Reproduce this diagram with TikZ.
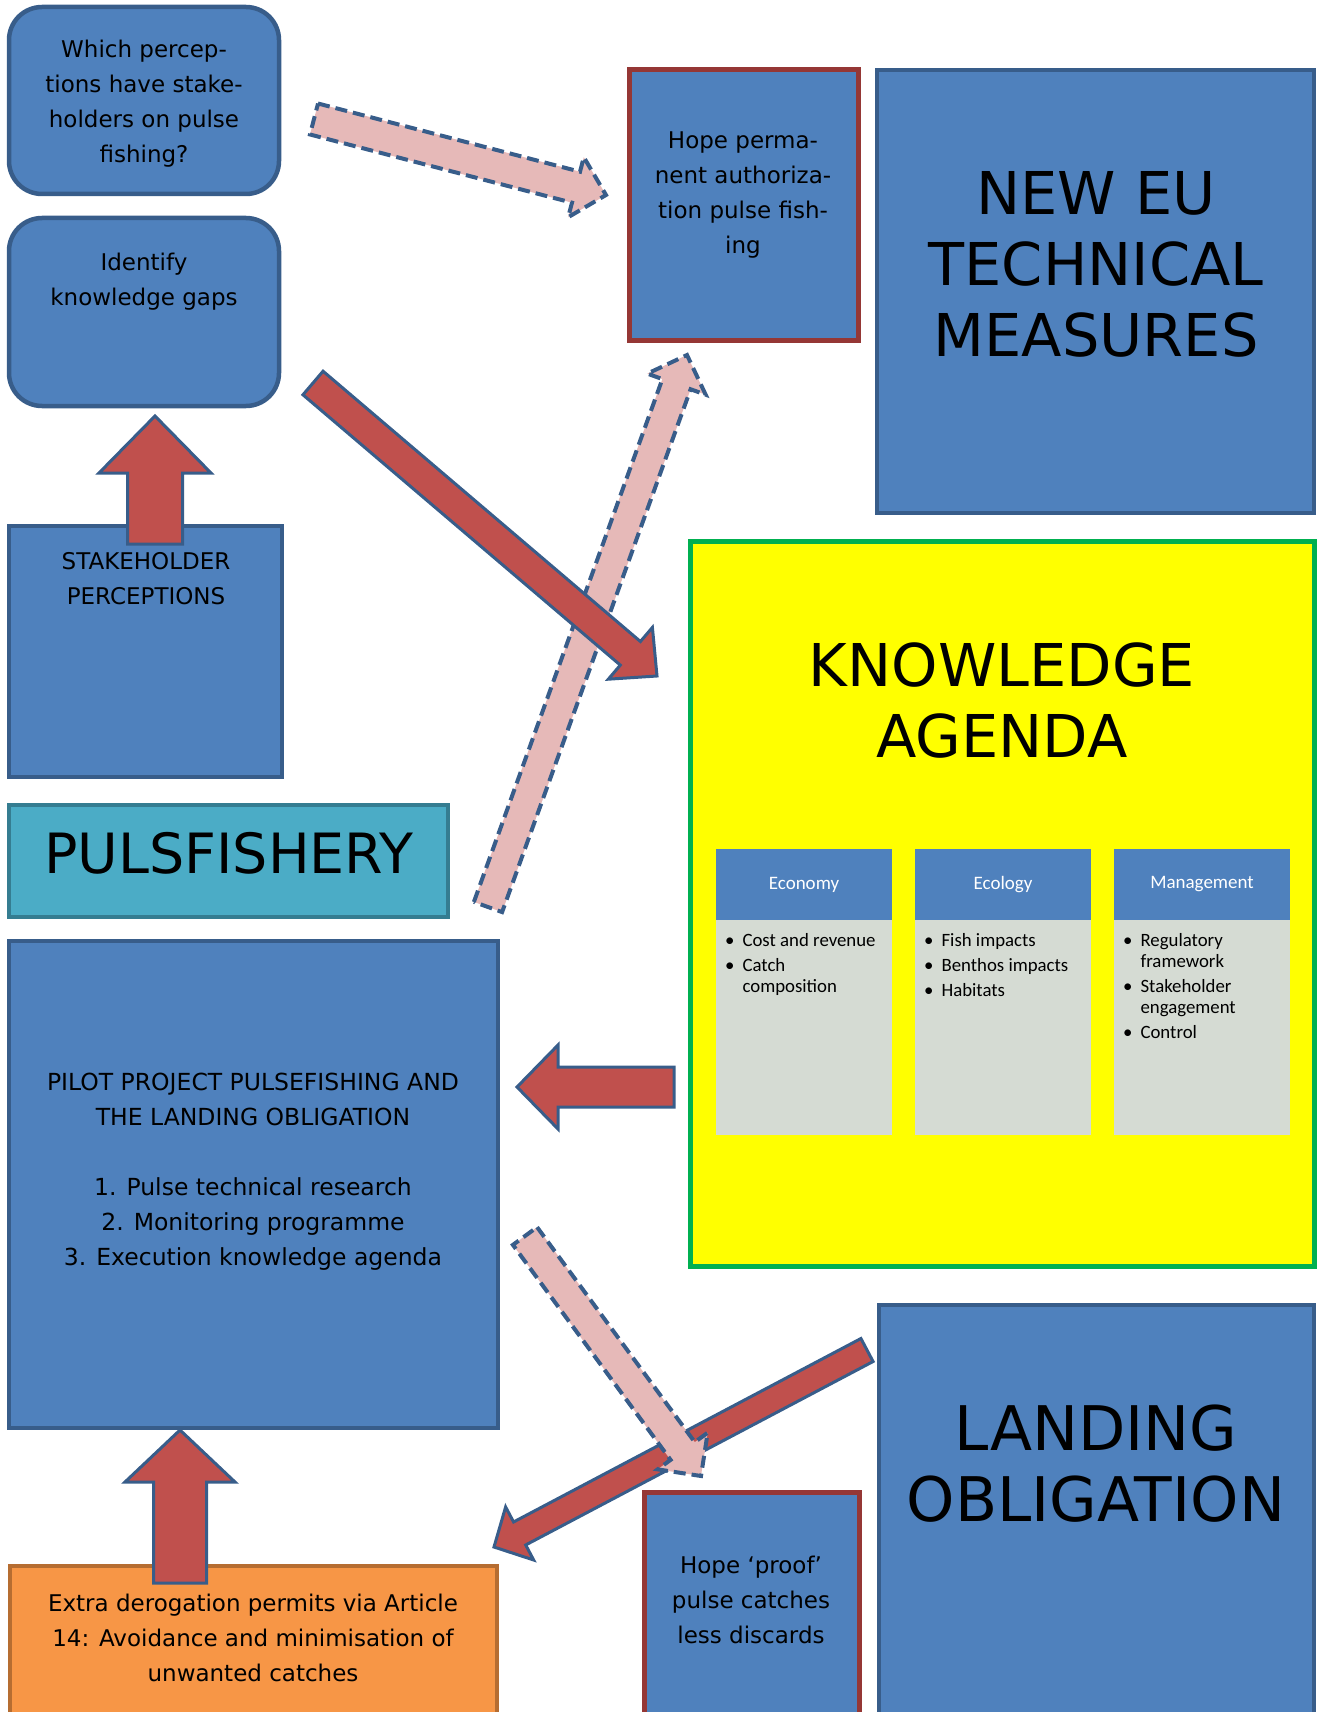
\documentclass[tikz,border=0pt]{standalone}
\usepackage{fontspec}
\setmainfont{DejaVu Sans}
\newfontfamily\calibri{Carlito}
\usetikzlibrary{positioning,calc}

\definecolor{boxblue}{HTML}{4F81BD}
\definecolor{boxedge}{HTML}{385D8A}
\definecolor{hopeedge}{HTML}{953735}
\definecolor{agendayellow}{HTML}{FFFF00}
\definecolor{agendagreen}{HTML}{00B050}
\definecolor{pulseteal}{HTML}{4BACC6}
\definecolor{pulseedge}{HTML}{357D91}
\definecolor{derogorange}{HTML}{F79646}
\definecolor{derogedge}{HTML}{B66D31}
\definecolor{colgrey}{HTML}{D5DBD3}
\definecolor{arrowred}{HTML}{C0504D}
\definecolor{arrowpink}{HTML}{E6B9B8}

% block arrow: [style]{from}{to}{half body}{half head}{head length}
\newcommand{\blockarrow}[6][]{%
  \coordinate (neck) at ($(#3)!#6!(#2)$);
  \draw[#1] ($(#2)!#4!90:(#3)$) -- ($(neck)!#4!-90:(#2)$) -- ($(neck)!#5!-90:(#2)$)
    -- (#3) -- ($(neck)!#5!90:(#2)$) -- ($(neck)!#4!90:(#2)$) -- ($(#2)!#4!-90:(#3)$) -- cycle;
}

\tikzset{
  box/.style={rectangle, draw=boxedge, fill=boxblue, line width=4.5pt, outer sep=0pt, anchor=north west},
  roundbox/.style={box, rounded corners=33pt},
  hopebox/.style={box, draw=hopeedge, line width=5pt},
  txt/.style={align=center, inner sep=0pt, font=\fontsize{23}{35}\selectfont},
  bigtxt/.style={align=center, inner sep=0pt, font=\fontsize{59}{71}\selectfont},
  colhead/.style={rectangle, fill=boxblue, outer sep=0pt, inner sep=0pt, minimum width=176pt, minimum height=71pt,
    anchor=north west, text=white, font=\calibri\fontsize{19}{22}\selectfont},
  colbody/.style={rectangle, fill=colgrey, outer sep=0pt, minimum width=176pt, minimum height=215pt},
  bullets/.style={inner sep=0pt, anchor=north west, font=\calibri\fontsize{18.8}{21}\selectfont},
  redarrow/.style={fill=arrowred, draw=boxedge, line width=3pt},
  pinkarrow/.style={fill=arrowpink, draw=boxedge, line width=4pt, dash pattern=on 12pt off 6pt},
}

\begin{document}
\begin{tikzpicture}[x=1pt, y=-1pt]
  \useasboundingbox (0,0) rectangle (1325,1712);
  \clip (0,0) rectangle (1325,1712);

  % left column
  \node[roundbox, minimum width=270pt, minimum height=187pt] (q1) at (9,7) {};
  \node[txt] (q1-text) at (144,104) {Which percep-\\tions have stake-\\holders on pulse\\fishing?};

  \node[roundbox, minimum width=270pt, minimum height=188pt, below=24pt of q1] (gaps) {};
  \node[txt] (gaps-text) at (144,282) {Identify\\knowledge gaps};

  \node[box, minimum width=273pt, minimum height=251pt] (stake) at (9,526) {};
  \node[txt] (stake-text) at (146,579) {STAKEHOLDER\\PERCEPTIONS};

  \node[box, draw=pulseedge, fill=pulseteal, minimum width=439pt, minimum height=112pt,
    below=28pt of stake.south west, anchor=north west] (pulse) {};
  \node[bigtxt, font=\fontsize{55.5}{66}\selectfont] (pulse-text) at (229,853) {PULSFISHERY};

  \node[box, minimum width=489pt, minimum height=487pt, below=24pt of pulse.south west, anchor=north west] (pilot) {};
  \node[txt, font=\fontsize{23.5}{35}\selectfont] (pilot-text) at (253,1172) {PILOT PROJECT PULSEFISHING AND\\THE LANDING OBLIGATION\\[35pt]
    1. Pulse technical research\\2. Monitoring programme\\3. Execution knowledge agenda};

  \node[box, draw=derogedge, fill=derogorange, minimum width=487pt, minimum height=200pt] (derog) at (10,1566) {};
  \node[txt] (derog-text) at (253,1638) {Extra derogation permits via Article\\14: Avoidance and minimisation of\\unwanted catches};

  % right column
  \node[hopebox, minimum width=229pt, minimum height=270pt] (perm) at (629,70) {};
  \node[txt] (perm-text) at (743,195) {Hope perma-\\nent authoriza-\\tion pulse fish-\\ing};

  \node[box, minimum width=437pt, minimum height=443pt, right=19pt of perm.north east, anchor=north west] (neweu) {};
  \node[bigtxt] (neweu-text) at (1096,264) {NEW EU\\TECHNICAL\\MEASURES};

  \node[box, draw=agendagreen, fill=agendayellow, line width=5pt, minimum width=624pt, minimum height=725pt] (agenda) at (690,541) {};
  \node[bigtxt] (agenda-text) at (1002,701) {KNOWLEDGE\\AGENDA};

  % agenda columns
  \node[colhead] (econ) at (716,849) {Economy};
  \node[colbody, below=0pt of econ] (econ-body) {};
  \node[colhead, right=23pt of econ] (ecol) {Ecology};
  \node[colbody, below=0pt of ecol] (ecol-body) {};
  \node[colhead, right=23pt of ecol] (mgmt) {Management};
  \node[colbody, below=0pt of mgmt] (mgmt-body) {};

  \node[bullets, below right=12pt and 9pt of econ.south west] (econ-list) {%
    \begin{tabular}{@{}l@{\hspace{8pt}}l@{}}
      \textbullet & Cost and revenue\\[4pt]
      \textbullet & Catch\\
                  & composition
    \end{tabular}};
  \node[bullets, below right=12pt and 9pt of ecol.south west] (ecol-list) {%
    \begin{tabular}{@{}l@{\hspace{8pt}}l@{}}
      \textbullet & Fish impacts\\[4pt]
      \textbullet & Benthos impacts\\[4pt]
      \textbullet & Habitats
    \end{tabular}};
  \node[bullets, below right=12pt and 9pt of mgmt.south west] (mgmt-list) {%
    \begin{tabular}{@{}l@{\hspace{8pt}}l@{}}
      \textbullet & Regulatory\\
                  & framework\\[4pt]
      \textbullet & Stakeholder\\
                  & engagement\\[4pt]
      \textbullet & Control
    \end{tabular}};

  \node[box, minimum width=435pt, minimum height=420pt, below=39pt of agenda.south east, anchor=north east] (landing) {};
  \node[bigtxt, font=\fontsize{61.5}{71}\selectfont] (landing-text) at (1096,1464) {LANDING\\OBLIGATION};

  \node[hopebox, minimum width=215pt, minimum height=250pt] (proof) at (644,1492) {};
  \node[txt] (proof-text) at (751,1600) {Hope ‘proof’\\pulse catches\\less discards};

  % arrow ends
  \coordinate (perc-from) at (314,119);
  \coordinate (perm-in) at (606,195);
  \coordinate (gaps-from) at (313,383);
  \coordinate (agenda-in) at (657,676);
  \coordinate (pulse-from) at (488,907);
  \coordinate (perm-below) at (687,355);
  \coordinate (stake-from) at (155,544);
  \coordinate (gaps-in) at (155,416);
  \coordinate (agenda-from) at (674,1087);
  \coordinate (pilot-in) at (517,1087);
  \coordinate (pilot-from) at (525,1236);
  \coordinate (proof-in) at (701,1476);
  \coordinate (landing-from) at (867,1350);
  \coordinate (derog-corner) at (494,1547);
  \coordinate (derog-from) at (180,1583);
  \coordinate (pilot-below) at (180,1430);

  % arrows
  \blockarrow[pinkarrow]{perc-from}{perm-in}{16pt}{31pt}{31pt}
  \blockarrow[pinkarrow]{pulse-from}{perm-below}{15pt}{31pt}{31pt}
  \blockarrow[redarrow]{gaps-from}{agenda-in}{15.5pt}{34pt}{35pt}
  \blockarrow[redarrow]{stake-from}{gaps-in}{27.5pt}{56pt}{57pt}
  \blockarrow[redarrow]{agenda-from}{pilot-in}{20pt}{42pt}{41pt}
  \blockarrow[redarrow]{landing-from}{derog-corner}{13pt}{30pt}{29pt}
  \blockarrow[pinkarrow]{pilot-from}{proof-in}{15pt}{31pt}{31pt}
  \blockarrow[redarrow]{derog-from}{pilot-below}{26.5pt}{55pt}{52pt}
\end{tikzpicture}
\end{document}
